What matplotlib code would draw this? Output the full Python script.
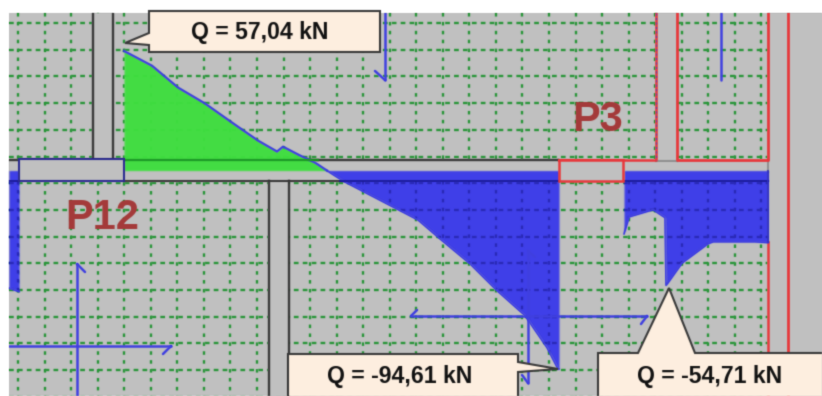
import matplotlib
matplotlib.use("Agg")
import matplotlib.pyplot as plt
from matplotlib.patches import Rectangle, Polygon
from matplotlib.transforms import Affine2D
import numpy as np

# shear diagram data: station along the beam and shear value Q [kN]
span_left_x = [9, 19]
span_left_q = [-56.0, -57.7]
span_pos_x = [124, 152, 178, 205, 232, 258, 277, 283, 300, 315, 327]
span_pos_q = [57.04, 50.0, 39.6, 32.0, 22.9, 14.3, 9.1, 11.4, 7.2, 3.8, 0.0]
span_neg_x = [327, 343, 387, 418, 440, 470, 497, 525, 547, 558, 559]
span_neg_q = [0.0, -4.9, -15.8, -23.5, -32.5, -44.4, -57.2, -69.1, -84.4, -94.61, -94.61]
span_right_x = [624, 629, 653, 665, 666, 682, 708, 713, 755, 768]
span_right_q = [-30.2, -22.0, -18.6, -22.4, -54.71, -44.0, -34.8, -33.9, -33.9, -34.3]

labels_q = ["Q = 57,04 kN", "Q = -94,61 kN", "Q = -54,71 kN"]
labels_col = ["P12", "P3"]

GRAY = "#C0C0C0"
GREEN = "#2A963A"
BLUE = "#3F3FE8"
LINE = "#4040E0"
DARK = "#3A3A3A"
RED = "#E8383C"
CREAM = "#FDEEDF"

plt.rcParams["font.family"] = ["Liberation Sans", "DejaVu Sans"]
fig = plt.figure(figsize=(8.22, 3.96), dpi=100, facecolor="white")
ax = fig.add_axes([9 / 822, 0, 813 / 822, 383 / 396])
ax.set_xlim(9, 822)
ax.set_ylim(396, 13)
ax.axis("off")
ax.add_patch(Rectangle((9, 13), 813, 383, fc=GRAY, ec="none", zorder=0))

GRID_X = np.arange(18, 770, 26.55)
GRID_Y = np.arange(23, 397, 26.7)
DASH_V = (0, (1.5, 2.27))
DASH_H = (0, (2.0, 1.77))

# green dashed slab grid
for gx in GRID_X:
    ax.plot([gx, gx], [13, 396], color=GREEN, lw=1.7, ls=DASH_V, zorder=1)
for gy in GRID_Y:
    ax.plot([9, 768], [gy, gy], color=GREEN, lw=1.7, ls=DASH_H, zorder=1)

# walls and beam
def wall(x0, y0, x1, y1, z=2):
    ax.add_patch(Rectangle((x0, y0), x1 - x0, y1 - y0, fc=GRAY, ec="none", zorder=z))

wall(92, 13, 113, 160)
wall(656, 13, 677, 160)
wall(268, 181, 289, 396)
wall(9, 160, 768, 181)
wall(768, 13, 822, 396)
for x in (93, 112.5):
    ax.plot([x, x], [13, 160], color=DARK, lw=1.7, zorder=3)
for x in (268.5, 289):
    ax.plot([x, x], [181, 396], color=DARK, lw=1.7, zorder=3)
ax.plot([9, 558], [160, 160], color=DARK, lw=1.7, zorder=3)
ax.plot([124, 558], [181, 181], color=DARK, lw=1.5, zorder=3)
ax.plot([656, 677], [160.5, 160.5], color="#909090", lw=1.4, zorder=3)
ax.plot([768, 768], [160, 172], color="#909090", lw=1.4, zorder=3)
ax.plot([656, 656, 559], [13, 160, 160], color=RED, lw=1.8, zorder=4)
ax.plot([656, 656], [13, 160], color="#6A4AB0", lw=0.8, ls=(0, (2, 2)), zorder=4)
ax.plot([676.5, 676.5, 768, 768], [13, 160, 160, 13], color=RED, lw=2.0, zorder=4)
ax.plot([768, 768], [242, 396], color=RED, lw=1.8, zorder=4)
ax.plot([788, 788], [13, 396], color=RED, lw=2.0, zorder=4)

# shear diagram, drawn on a kN scale around the beam axis
q_scale = Affine2D().scale(1, -2.097).translate(0, 170.6) + ax.transData
ax.fill_between(span_pos_x, 0, span_pos_q, color="#3FE03F", alpha=0.97, lw=0, zorder=5, transform=q_scale)
for xs, qs in ((span_left_x, span_left_q), (span_neg_x, span_neg_q), (span_right_x, span_right_q)):
    poly = ax.fill_between(xs, 0, qs, color=BLUE, lw=0, zorder=5, transform=q_scale)
    clip = poly.get_paths()[0]
    # the slab grid shows through the translucent diagram as navy dashes
    for gx in GRID_X:
        ln, = ax.plot([gx, gx], [181, 396], color="#2A2AB8", lw=1.7, ls=DASH_V, zorder=5.2)
        ln.set_clip_path(clip, q_scale)
    for gy in GRID_Y[GRID_Y > 181]:
        ln, = ax.plot([9, 768], [gy, gy], color="#2A2AB8", lw=1.7, ls=DASH_H, zorder=5.2)
        ln.set_clip_path(clip, q_scale)
    ax.plot(xs, qs, color=LINE, lw=1.2, zorder=6, transform=q_scale)
ax.plot(span_pos_x, span_pos_q, color=LINE, lw=1.6, zorder=6, transform=q_scale)
ax.plot([124, 318], [160, 160], color="#1E9A28", lw=1.6, zorder=6)
for x0, x1 in ((9, 19), (340, 559), (624, 768)):
    ax.plot([x0, x1], [181, 181], color="#1A1A98", lw=1.3, zorder=6)
ax.plot([767.5, 767.5], [171, 242], color="#3030C0", lw=1.2, zorder=6)

# column boxes
ax.add_patch(Rectangle((19, 158.5), 105, 22.5, fc=GRAY, ec="#2D2D90", lw=1.5, zorder=7))
ax.add_patch(Rectangle((559, 160), 64, 21, fc=GRAY, ec=RED, lw=1.8, zorder=7))

# blue local axes with open arrow tips
axis_lines = [
    ([77, 77], [264, 396]), ([77, 85], [264, 272]),
    ([9, 171], [346, 346]), ([171, 163], [346, 354]),
    ([528, 528], [251, 383]), ([528, 535], [251, 257]), ([528, 522], [383, 375]),
    ([411, 647], [316, 316]), ([647, 641], [316, 324]), ([411, 417], [316, 310]),
    ([385, 385], [13, 80]), ([385, 375], [80, 71]),
    ([721, 721], [13, 80]),
]
for xs, ys in axis_lines:
    ax.plot(xs, ys, color=LINE, lw=1.8, zorder=8, solid_capstyle="round")

# column names
ax.text(102, 218, labels_col[0], color="#A43A3A", fontsize=30, fontweight="bold",
        ha="center", va="center", zorder=9)
ax.text(598, 120, labels_col[1], color="#A43A3A", fontsize=30, fontweight="bold",
        ha="center", va="center", zorder=9)

# callouts
def callout(pts, text, tx, ty):
    ax.add_patch(Polygon(pts, closed=True, fc=CREAM, ec=DARK, lw=1.5, zorder=10,
                         clip_on=False, joinstyle="miter"))
    ax.text(tx, ty, text, color="#111111", fontsize=16.6, fontweight="bold",
            ha="center", va="center", zorder=11)

callout([(149, 11), (380, 11), (380, 52), (149, 52), (149, 45), (125, 43), (149, 33)],
        labels_q[0], 260, 32)
callout([(288, 354), (518, 354), (518, 362), (558, 369), (518, 372), (518, 398), (288, 398)],
        labels_q[1], 400, 376)
callout([(598, 353), (638, 353), (669, 288), (695, 353), (824, 353), (824, 398), (598, 398)],
        labels_q[2], 710, 376)

# slight softening to match the reference's resampled look
def soften(img, dpi):
    pad = 3
    out = np.pad(img, ((pad, pad), (pad, pad), (0, 0)))
    rgb = out[..., :3] * out[..., 3:4]
    prem = np.dstack([rgb, out[..., 3]])
    kernel = (0.16, 0.68, 0.16)
    for axis in (0, 1):
        prem = sum(w * np.roll(prem, s, axis=axis) for w, s in zip(kernel, (-1, 0, 1)))
    a = prem[..., 3:4]
    col = np.where(a > 0, prem[..., :3] / np.maximum(a, 1e-6), 0)
    return np.dstack([col, a]), -pad, -pad

for art in ax.get_children():
    if art.get_visible() and art is not ax.patch:
        try:
            art.set_agg_filter(soften)
        except Exception:
            pass

fig.savefig("out.png", dpi=100, facecolor="white")
